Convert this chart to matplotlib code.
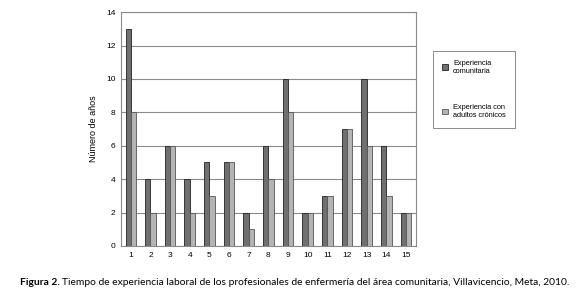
import numpy as np
import matplotlib
matplotlib.use("Agg")
import matplotlib.pyplot as plt

# ── Data ──────────────────────────────────────────────────────────────────────
categories = [str(i) for i in range(1, 16)]
exp_comunitaria = [13, 4, 6, 4, 5, 5, 2, 6, 10, 2, 3, 7, 10, 6, 2]
exp_cronicos    = [8, 2, 6, 2, 3, 5, 1, 4, 8, 2, 3, 7, 6, 3, 2]
series_labels   = ["Experiencia\ncomunitaria", "Experiencia con\nadultos crónicos"]

plt.rcParams["font.family"] = ["Liberation Sans", "DejaVu Sans"]

fig = plt.figure(figsize=(5.79, 2.96), dpi=100)
ax = fig.add_axes([0.209, 0.169, 0.509, 0.790])

x = np.arange(len(categories))
w = 0.27
b1 = ax.bar(x - w / 2, exp_comunitaria, w, color="#707070",
            edgecolor="#222222", linewidth=0.6, zorder=3)
b2 = ax.bar(x + w / 2, exp_cronicos, w, color="#b4b4b4",
            edgecolor="#555555", linewidth=0.6, zorder=3)

ax.set_xlim(-0.5, len(categories) - 0.5)
ax.set_ylim(0, 14)
ax.set_yticks(range(0, 15, 2))
ax.set_xticks(x)
ax.set_xticklabels(categories)
ax.yaxis.grid(True, color="#8a8a8a", linewidth=0.8, zorder=0)
ax.tick_params(length=0, labelsize=6, pad=4)
for s in ax.spines.values():
    s.set_color("#8a8a8a")
    s.set_linewidth(0.8)
ax.set_ylabel("Número de años", fontsize=6.5, labelpad=6)

leg = fig.legend([b1, b2], series_labels, loc="upper left",
                 bbox_to_anchor=(0.748, 0.828), borderaxespad=0,
                 fontsize=5.3, frameon=True, fancybox=False,
                 edgecolor="#555555", handlelength=0.8, handleheight=0.8,
                 labelspacing=4.0, borderpad=1.2, handletextpad=0.7)
leg.get_frame().set_linewidth(0.6)

# ── Caption: bold "Figura 2." followed by regular text ───────────────────────
cap_font = ["Lato", "DejaVu Sans"]
t1 = fig.text(0.034, 0.047, "Figura 2.", fontsize=7.4, fontweight="bold",
              family=cap_font, va="center")
fig.canvas.draw()
bb = t1.get_window_extent(renderer=fig.canvas.get_renderer())
fig.text(bb.x1 / fig.bbox.width + 0.005, 0.047,
         "Tiempo de experiencia laboral de los profesionales de enfermería del "
         "área comunitaria, Villavicencio, Meta, 2010.",
         fontsize=7.4, family=cap_font, va="center")

fig.savefig("out.png", dpi=100)
